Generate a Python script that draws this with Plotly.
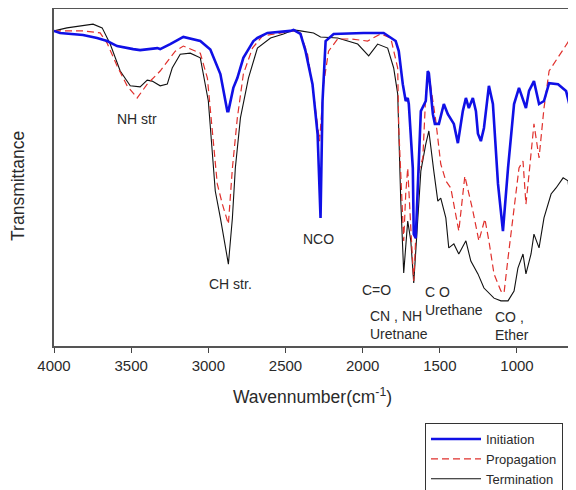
import plotly.graph_objects as go

# ---- Data (wavenumber in cm^-1, transmittance in arbitrary %) ----
init_wn = [4000, 3961, 3812, 3721, 3656, 3591, 3487, 3442, 3331, 3312, 3247, 3214, 3162, 3052,
           2987, 2922, 2877, 2870, 2838, 2812, 2773, 2747, 2708, 2682, 2617, 2468, 2448, 2403,
           2370, 2325, 2292, 2273, 2260, 2240, 2188, 1994, 1864, 1786, 1766, 1740, 1721, 1708,
           1701, 1675, 1669, 1656, 1643, 1623, 1591, 1578, 1571, 1545, 1532, 1506, 1474, 1448,
           1409, 1383, 1351, 1331, 1312, 1286, 1266, 1253, 1234, 1214, 1182, 1156, 1123, 1091,
           1058, 1019, 987, 942, 922, 890, 857, 825, 792, 734, 682, 650]
init_t = [93.5, 92.9, 92.3, 91.4, 90.5, 89.0, 88.1, 87.8, 88.4, 88.1, 89.6, 90.5, 91.7, 90.5,
          88.0, 80.7, 69.7, 69.7, 76.6, 79.5, 85.5, 87.5, 90.5, 91.4, 92.9, 93.5, 93.8, 92.6,
          87.5, 77.7, 62.9, 38.0, 72.7, 90.5, 92.6, 92.9, 92.9, 90.5, 87.5, 77.7, 72.7, 73.6,
          71.8, 52.8, 33.2, 32.0, 48.1, 69.7, 72.7, 81.6, 81.0, 68.8, 65.9, 65.9, 71.8, 68.8,
          65.9, 60.2, 69.7, 73.6, 70.6, 73.6, 69.7, 63.0, 60.8, 64.7, 77.2, 71.8, 48.1, 34.1,
          52.8, 71.8, 76.6, 70.6, 75.7, 78.6, 71.8, 72.7, 78.0, 77.7, 75.7, 69.7]

prop_wn = [4000, 3812, 3701, 3656, 3591, 3526, 3461, 3396, 3312, 3214, 3162, 3052, 3006, 2974,
           2942, 2909, 2870, 2844, 2812, 2773, 2714, 2649, 2532, 2448, 2403, 2357, 2318, 2279,
           2253, 2221, 2162, 2078, 1968, 1883, 1818, 1773, 1766, 1740, 1734, 1721, 1708, 1688,
           1669, 1636, 1610, 1591, 1571, 1545, 1526, 1494, 1461, 1429, 1396, 1377, 1338, 1286,
           1247, 1208, 1182, 1149, 1104, 1084, 1058, 1019, 987, 961, 942, 922, 890, 857, 825,
           792, 734, 650]
prop_t = [93.5, 93.5, 92.9, 89.9, 83.1, 77.2, 73.6, 77.7, 81.6, 87.5, 89.0, 86.9, 79.5, 62.9,
          48.1, 42.1, 36.2, 52.8, 67.7, 80.7, 88.4, 92.0, 92.9, 93.5, 92.9, 86.6, 74.8, 60.8,
          77.7, 87.5, 91.1, 91.1, 90.5, 92.6, 91.4, 82.5, 64.7, 40.1, 31.2, 45.1, 52.8, 35.0,
          19.3, 51.9, 55.8, 74.8, 80.7, 72.7, 66.8, 54.0, 49.0, 46.9, 38.0, 34.1, 50.4, 40.1,
          31.2, 37.7, 31.2, 21.4, 16.3, 15.7, 26.1, 41.0, 52.8, 54.9, 42.1, 51.0, 65.9, 55.8,
          70.6, 81.6, 85.5, 91.5]

term_wn = [4000, 3916, 3747, 3688, 3636, 3571, 3506, 3442, 3396, 3364, 3312, 3266, 3234, 3182,
           3117, 3052, 3000, 2974, 2955, 2922, 2890, 2870, 2844, 2825, 2792, 2740, 2682, 2597,
           2513, 2448, 2403, 2318, 2273, 2162, 2032, 1961, 1903, 1838, 1799, 1773, 1753, 1734,
           1708, 1688, 1669, 1643, 1623, 1591, 1571, 1539, 1513, 1494, 1461, 1442, 1409, 1377,
           1331, 1299, 1253, 1214, 1149, 1104, 1058, 1019, 994, 961, 942, 909, 890, 857, 825,
           779, 747, 701, 669, 650]
term_t = [93.5, 94.4, 95.5, 94.4, 89.6, 81.6, 77.2, 76.9, 78.9, 78.6, 77.2, 77.7, 82.5, 86.6,
          86.9, 85.5, 72.7, 57.9, 46.0, 38.0, 30.3, 24.3, 38.0, 52.8, 67.7, 79.5, 88.4, 91.4,
          92.6, 93.8, 93.5, 92.9, 91.7, 91.4, 89.6, 86.1, 89.6, 88.4, 82.5, 74.8, 43.0, 21.7,
          37.1, 31.2, 18.7, 38.0, 51.9, 59.9, 63.8, 51.9, 43.0, 43.9, 38.0, 29.1, 30.3, 27.3,
          31.2, 25.2, 21.4, 17.2, 14.2, 13.4, 13.4, 16.3, 23.1, 27.3, 21.4, 27.3, 33.2, 29.1,
          38.0, 45.1, 46.9, 49.9, 49.0, 41.0]

series_names = ["Initiation", "Propagation", "Termination"]
x_ticks = [4000, 3500, 3000, 2500, 2000, 1500, 1000]

# band labels: (text, wavenumber, transmittance, anchor)
band_labels = [
    ("NH str", 3461, 67.4, "center"),
    ("CH str.", 2857, 18.4, "center"),
    ("NCO", 2286, 31.8, "center"),
    ("C=O", 1909, 16.6, "center"),
    ("CN , NH<br>Uretnane", 1968, 6.1, "left"),
    ("C O<br>Urethane", 1610, 13.4, "left"),
    ("CO ,<br>Ether", 1156, 5.8, "left"),
]

FONT = "Liberation Sans, Arial, sans-serif"
TXT = "#2a2a2a"

fig = go.Figure()
fig.add_trace(go.Scatter(x=term_wn, y=term_t, name=series_names[2], mode="lines",
                         line=dict(color="#111111", width=1.1), legendrank=3))
fig.add_trace(go.Scatter(x=prop_wn, y=prop_t, name=series_names[1], mode="lines",
                         line=dict(color="#e0302c", width=1.2, dash="7px,4px"), legendrank=2))
fig.add_trace(go.Scatter(x=init_wn, y=init_t, name=series_names[0], mode="lines",
                         line=dict(color="#1010e6", width=2.6), legendrank=1))

for text, wn, t, anc in band_labels:
    fig.add_annotation(x=wn, y=t, xref="x", yref="y", text=text, showarrow=False,
                       xanchor=anc, yanchor="middle", align="left",
                       font=dict(family=FONT, size=14, color=TXT))

fig.add_annotation(x=0.5, y=-0.148, xref="paper", yref="paper",
                   text="Wavennumber(cm<sup>-1</sup>)", showarrow=False,
                   xanchor="center", yanchor="middle",
                   font=dict(family=FONT, size=17.5, color=TXT))
fig.add_annotation(x=-0.0696, y=0.475, xref="paper", yref="paper",
                   text="Transmittance", showarrow=False, textangle=-90,
                   xanchor="center", yanchor="middle",
                   font=dict(family=FONT, size=17.5, color=TXT))

# the page places the figure 8px in from the top-left corner, so margins are offset by 8px
fig.update_layout(
    template="none",
    width=576, height=490,
    margin=dict(l=46, r=13, t=1, b=152, autoexpand=False),
    paper_bgcolor="white", plot_bgcolor="white",
    font=dict(family=FONT, color=TXT),
    showlegend=True,
    legend=dict(xref="paper", yref="container", x=(417 - 46) / 517, y=1 - 415 / 490,
                xanchor="left", yanchor="top", bgcolor="white",
                bordercolor="#333333", borderwidth=1,
                font=dict(family=FONT, size=13, color=TXT),
                itemwidth=50, tracegroupgap=0),
    xaxis=dict(range=[4000, 650], tickvals=x_ticks, ticktext=[str(v) for v in x_ticks],
               ticks="outside", ticklen=5, tickcolor="#444", tickwidth=1.2,
               showline=True, linecolor="#555", linewidth=1.5, mirror=True,
               showgrid=False, zeroline=False, automargin=False,
               tickfont=dict(family=FONT, size=15, color=TXT)),
    yaxis=dict(range=[0, 100], showticklabels=False, ticks="",
               showline=True, linecolor="#555", linewidth=1.5, mirror=True,
               showgrid=False, zeroline=False, automargin=False),
)

fig.write_html("out.html")
